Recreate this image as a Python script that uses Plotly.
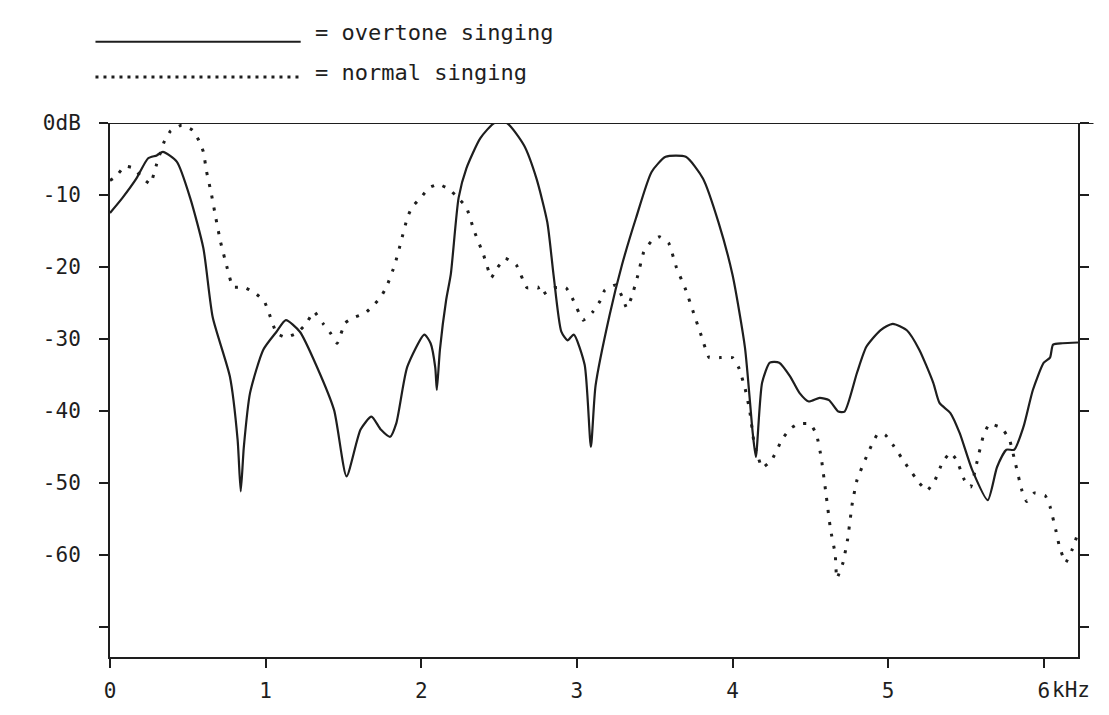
import plotly.graph_objects as go

# ---- data (frequency in kHz, level in dB) ----
overtone_khz = [0.0, 0.08, 0.17, 0.245, 0.30, 0.34, 0.43, 0.515, 0.60, 0.66, 0.77, 0.82, 0.84, 0.86, 0.90,
                0.985, 1.07, 1.13, 1.22, 1.33, 1.44, 1.52, 1.61, 1.68, 1.74, 1.80, 1.84, 1.91, 2.02, 2.06,
                2.09, 2.10, 2.12, 2.16, 2.19, 2.24, 2.29, 2.38, 2.47, 2.55, 2.66, 2.74, 2.81, 2.85, 2.90,
                2.94, 2.98, 3.05, 3.09, 3.12, 3.21, 3.29, 3.38, 3.48, 3.57, 3.70, 3.81, 3.91, 4.00, 4.08,
                4.13, 4.15, 4.19, 4.24, 4.30, 4.37, 4.43, 4.49, 4.56, 4.62, 4.68, 4.72, 4.80, 4.86, 4.95,
                5.03, 5.12, 5.20, 5.29, 5.33, 5.40, 5.46, 5.54, 5.64, 5.70, 5.76, 5.81, 5.87, 5.93, 6.00,
                6.04, 6.06, 6.12, 6.22]
overtone_db = [-12.5, -10.4, -7.7, -4.9, -4.5, -4.0, -5.4, -10.4, -17.4, -27.0, -35.2, -44.0, -51.2, -45.0, -37.5,
               -31.5, -29.0, -27.4, -29.0, -33.9, -39.9, -49.1, -42.6, -40.8, -42.6, -43.6, -41.7, -33.9, -29.4, -30.6,
               -34.0, -37.1, -31.5, -24.6, -21.0, -10.4, -6.3, -2.1, 0.0, 0.0, -3.1, -7.7, -13.8, -21.1, -29.0,
               -30.2, -29.4, -33.6, -45.0, -36.5, -26.7, -19.7, -13.2, -6.8, -4.7, -4.7, -7.7, -13.8, -21.1, -31.2,
               -43.1, -46.4, -36.1, -33.3, -33.3, -35.2, -37.5, -38.7, -38.2, -38.5, -40.1, -40.1, -34.7, -31.1, -28.8,
               -27.9, -28.8, -31.5, -36.1, -38.9, -40.3, -43.1, -48.2, -52.4, -47.8, -45.4, -45.4, -42.2, -37.1, -33.3,
               -32.6, -30.8, -30.6, -30.5]

normal_khz = [0.0, 0.04, 0.095, 0.155, 0.205, 0.26, 0.28, 0.30, 0.35, 0.39, 0.46, 0.53, 0.57, 0.60, 0.62,
              0.65, 0.68, 0.71, 0.75, 0.79, 0.86, 0.93, 0.99, 1.02, 1.07, 1.13, 1.20, 1.26, 1.31, 1.37,
              1.42, 1.46, 1.51, 1.56, 1.64, 1.69, 1.74, 1.78, 1.83, 1.87, 1.91, 1.94, 2.00, 2.05, 2.11,
              2.18, 2.24, 2.29, 2.34, 2.40, 2.45, 2.49, 2.54, 2.61, 2.68, 2.75, 2.77, 2.85, 2.93, 2.97,
              3.04, 3.10, 3.15, 3.18, 3.25, 3.29, 3.32, 3.35, 3.39, 3.43, 3.48, 3.53, 3.59, 3.64, 3.70,
              3.75, 3.80, 3.85, 3.92, 4.00, 4.04, 4.08, 4.11, 4.14, 4.16, 4.19, 4.25, 4.32, 4.37, 4.42,
              4.50, 4.54, 4.57, 4.60, 4.63, 4.66, 4.67, 4.71, 4.74, 4.77, 4.80, 4.86, 4.93, 4.98, 5.03,
              5.12, 5.20, 5.25, 5.30, 5.35, 5.40, 5.44, 5.49, 5.53, 5.57, 5.61, 5.65, 5.73, 5.78, 5.82,
              5.86, 5.89, 5.94, 6.01, 6.04, 6.08, 6.10, 6.14, 6.18, 6.21]
normal_db = [-8.0, -7.4, -6.0, -6.3, -7.6, -8.5, -7.2, -5.7, -2.5, -1.1, -0.3, -1.0, -2.4, -4.0, -6.7,
             -9.7, -13.2, -16.5, -19.9, -22.8, -22.8, -23.6, -24.7, -26.3, -29.2, -29.8, -29.2, -27.9, -26.2, -27.9,
             -29.3, -30.6, -27.8, -27.1, -26.4, -25.4, -24.2, -22.6, -19.7, -16.5, -13.2, -11.7, -10.3, -9.0, -8.5,
             -9.2, -10.5, -11.7, -15.0, -18.3, -21.5, -20.1, -18.8, -19.7, -22.9, -22.8, -23.9, -22.9, -22.9, -24.3,
             -27.4, -26.3, -24.7, -23.2, -22.5, -24.1, -25.7, -24.3, -21.3, -17.9, -16.4, -15.8, -16.7, -20.1, -23.2,
             -26.4, -29.6, -32.6, -32.6, -32.6, -34.0, -36.8, -39.9, -44.7, -46.1, -47.9, -46.9, -43.9, -42.5, -41.8,
             -41.8, -43.3, -46.5, -51.4, -56.5, -59.9, -63.3, -61.1, -57.8, -52.8, -49.6, -46.4, -43.3, -43.3, -44.7,
             -47.6, -50.0, -51.1, -49.7, -47.1, -45.8, -46.8, -49.6, -50.6, -47.2, -43.6, -41.8, -42.4, -44.0, -47.5,
             -51.1, -52.6, -51.4, -51.8, -53.3, -56.8, -58.8, -61.1, -59.4, -57.6]

x_tick_vals = [0, 1, 2, 3, 4, 5, 6]
x_tick_text = ["0", "1", "2", "3", "4", "5", "6"]
y_tick_vals = [0, -10, -20, -30, -40, -50, -60, -70]
y_tick_text = ["0dB", "-10", "-20", "-30", "-40", "-50", "-60", ""]
legend_labels = ["= overtone singing", "= normal singing"]
x_unit = "kHz"

INK = "#1e1e1e"
FONT = "DejaVu Sans Mono"

fig = go.Figure()
fig.add_trace(go.Scatter(x=overtone_khz, y=overtone_db, mode="lines",
                         line=dict(color=INK, width=2.2, shape="spline", smoothing=0.6),
                         name=legend_labels[0], showlegend=False))
fig.add_trace(go.Scatter(x=normal_khz, y=normal_db, mode="lines",
                         line=dict(color=INK, width=3, dash="3px,9px", shape="spline", smoothing=0.35),
                         name=legend_labels[1], showlegend=False))

# top 0 dB line extended a bit past the right axis
fig.add_shape(type="line", xref="paper", yref="y", x0=0, x1=1.016, y0=0, y1=0,
              line=dict(color=INK, width=2))

# hand-drawn style legend
fig.add_shape(type="line", xref="paper", yref="paper", x0=-0.015, x1=0.197, y0=1.152, y1=1.152,
              line=dict(color=INK, width=2))
fig.add_shape(type="line", xref="paper", yref="paper", x0=-0.015, x1=0.197, y0=1.086, y1=1.086,
              line=dict(color=INK, width=3, dash="3px,5px"))
fig.add_annotation(xref="paper", yref="paper", x=0.21, y=1.17, text=legend_labels[0],
                   showarrow=False, xanchor="left", yanchor="middle",
                   font=dict(family=FONT, size=22, color=INK))
fig.add_annotation(xref="paper", yref="paper", x=0.21, y=1.095, text=legend_labels[1],
                   showarrow=False, xanchor="left", yanchor="middle",
                   font=dict(family=FONT, size=22, color=INK))
fig.add_annotation(xref="x", yref="paper", x=6, y=0, text=x_unit, showarrow=False,
                   xanchor="left", yanchor="top", xshift=6, yshift=-19,
                   font=dict(family=FONT, size=21, color=INK))

fig.update_layout(
    width=1109, height=715,
    margin=dict(l=110, r=31, t=123, b=58),
    paper_bgcolor="white", plot_bgcolor="white",
    font=dict(family=FONT, size=21, color=INK),
    showlegend=False,
    xaxis=dict(range=[0, 6.22], tickvals=x_tick_vals, ticktext=x_tick_text,
               showgrid=False, zeroline=False, showline=True, linecolor=INK, linewidth=2,
               ticks="outside", ticklen=9, tickwidth=2, tickcolor=INK, mirror=False,
               ticklabelstandoff=5),
    yaxis=dict(range=[-74.2, 0], tickvals=y_tick_vals, ticktext=y_tick_text,
               showgrid=False, zeroline=False, showline=True, linecolor=INK, linewidth=2,
               ticks="outside", ticklen=9, tickwidth=1.5, tickcolor=INK, mirror="ticks",
               ticklabelstandoff=14),
)

fig.write_html("out.html")
